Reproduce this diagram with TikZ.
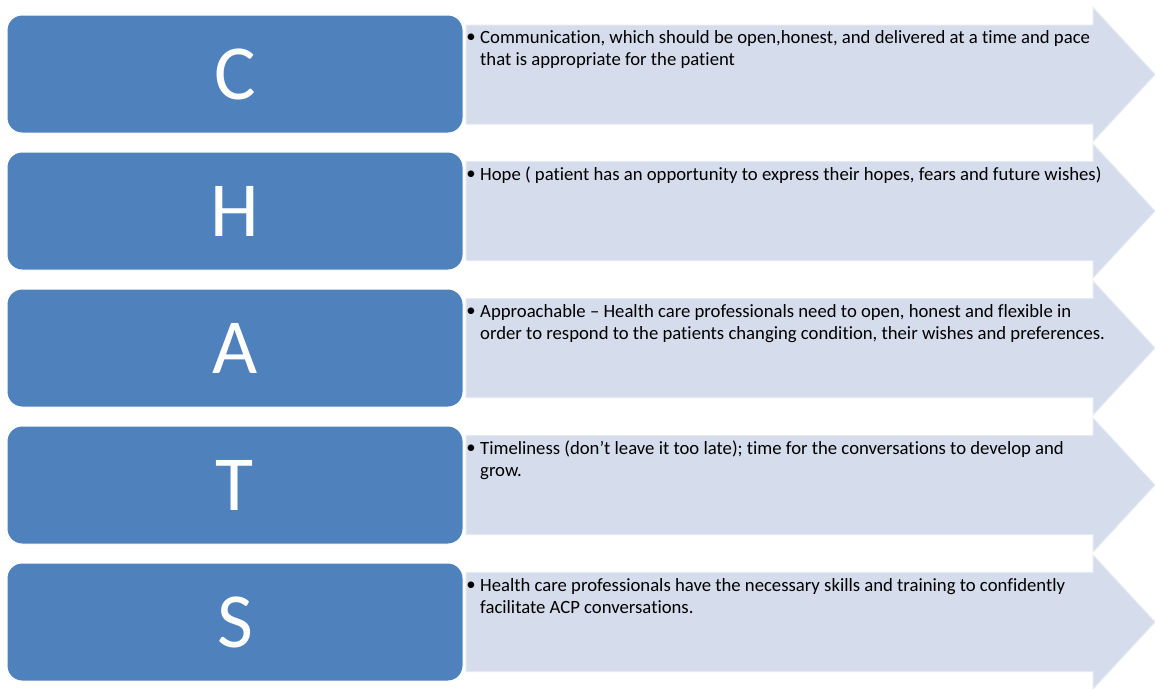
\documentclass[tikz,border=0pt]{standalone}
\usepackage{fontspec}
\setmainfont{Carlito}[Ligatures=NoCommon]
\definecolor{letterblue}{RGB}{79,129,189}
\definecolor{bandfill}{RGB}{213,220,235}
\definecolor{bandedge}{RGB}{228,233,243}
\begin{document}
\begin{tikzpicture}[x=1pt,y=-1pt,
  letterbox/.style={fill=letterblue, draw=white, line width=1pt, rounded corners=15pt,
    minimum width=456pt, minimum height=118pt, inner sep=0pt,
    text=white, font={\fontsize{78}{80}\selectfont}},
  bulletmark/.style={inner sep=0pt, font={\fontsize{18.7}{22}\selectfont}},
  desc/.style={anchor=north west, inner sep=0pt, align=left,
    font={\fontsize{18.7}{22}\selectfont}},
  bandarrow/.pic={
    \filldraw[fill=bandfill, draw=bandedge, line width=1pt]
      (466,-49.5) -- (1093,-49.5) -- (1093,-67) -- (1155,0)
      -- (1093,67) -- (1093,49.5) -- (466,49.5) -- cycle;
  }]
\useasboundingbox (0,0) rectangle (1155,688);

% banner arrows behind the letter boxes
\pic at (0,74.5) {bandarrow};
\pic at (0,211) {bandarrow};
\pic at (0,348) {bandarrow};
\pic at (0,485) {bandarrow};
\pic at (0,622) {bandarrow};

% letter boxes
\node[letterbox] (c) at (235,74) {C};
\node[letterbox] (h) at (235,211) {H};
\node[letterbox] (a) at (235,348) {A};
\node[letterbox] (t) at (235,485) {T};
\node[letterbox] (s) at (235,622) {S};

% bullet texts
\node[bulletmark] (bc) at (471,38) {•};
\node[desc] (tc) at (480,28) {\strut Communication, which should be open,honest, and delivered at a time and pace\\that is appropriate for the patient};

\node[bulletmark] (bh) at (471,175) {•};
\node[desc] (th) at (480,165) {\strut Hope ( patient has an opportunity to express their hopes, fears and future wishes)};

\node[bulletmark] (ba) at (471,312) {•};
\node[desc] (ta) at (480,302) {\strut Approachable – Health care professionals need to open, honest and flexible in\\order to respond to the patients changing condition, their wishes and preferences.};

\node[bulletmark] (bt) at (471,449) {•};
\node[desc] (tt) at (480,439) {\strut Timeliness (don’t leave it too late); time for the conversations to develop and\\grow.};

\node[bulletmark] (bs) at (471,586) {•};
\node[desc] (ts) at (480,576) {\strut Health care professionals have the necessary skills and training to confidently\\facilitate ACP conversations.};
\end{tikzpicture}
\end{document}
